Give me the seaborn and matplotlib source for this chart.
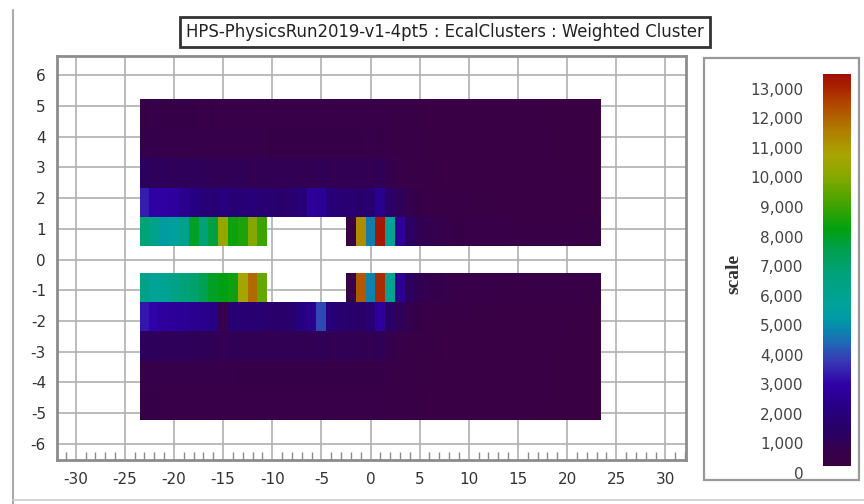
import numpy as np
import pandas as pd
import matplotlib
matplotlib.use("Agg")
import matplotlib.pyplot as plt
import seaborn as sns
from matplotlib.colors import LinearSegmentedColormap
from matplotlib.ticker import MultipleLocator, StrMethodFormatter
from matplotlib.patches import Rectangle
from matplotlib.lines import Line2D

# ---------------- data ----------------
title = "HPS-PhysicsRun2019-v1-4pt5 : EcalClusters : Weighted Cluster"
cbar_label = "scale"
columns = list(range(-23, 24))          # crystal column index x
rows = [5, 4, 3, 2, 1, -1, -2, -3, -4, -5]  # crystal row index y
H = None  # beam hole (no crystal)

row_p5 = [650, 660, 650, 640, 650, 640, 630, 640, 630, 620, 630, 620, 610, 620, 610, 600, 610, 600, 600, 590,
          600, 590, 600, 610, 600, 560, 500, 460, 440, 420, 410, 400, 400, 390, 390, 380, 380, 380, 370, 370,
          370, 360, 360, 360, 360, 350, 350]
row_p4 = [720, 720, 710, 700, 700, 690, 690, 680, 680, 670, 670, 660, 660, 650, 650, 650, 640, 650, 640, 640,
          650, 640, 650, 660, 650, 600, 530, 480, 450, 430, 420, 410, 400, 400, 390, 390, 380, 380, 380, 370,
          370, 370, 360, 360, 360, 350, 350]
row_p3 = [1250, 1200, 1180, 1150, 1120, 1100, 1080, 1050, 1040, 1030, 1020, 1000, 990, 980, 970, 960, 980, 1000, 1050, 1000,
          980, 960, 950, 980, 1050, 800, 620, 520, 480, 450, 430, 420, 410, 400, 400, 390, 390, 380, 380, 380,
          370, 370, 370, 360, 360, 360, 350]
row_p2 = [3400, 2900, 2900, 2800, 2500, 2200, 2000, 1900, 2100, 1900, 1900, 2000, 1800, 1700, 1600, 1700, 2000, 2700, 2600, 2000,
          1800, 1700, 1600, 1700, 2500, 1500, 1100, 800, 650, 560, 520, 490, 470, 450, 440, 430, 420, 410, 400, 400,
          390, 390, 380, 380, 370, 370, 360]
row_p1 = [6800, 6200, 5400, 5600, 6200, 8000, 6800, 7700, 10300, 8400, 8600, 10000, 9000, H, H, H, H, H, H, H,
          H, 400, 11300, 4700, 13300, 5900, 2700, 1400, 1000, 850, 750, 680, 650, 630, 620, 600, 580, 560, 540, 520,
          500, 480, 470, 460, 450, 440, 430]
row_m1 = [6300, 5800, 5900, 6300, 6700, 7000, 7500, 8000, 8200, 8400, 10700, 11900, 9600, H, H, H, H, H, H, H,
          H, 500, 12200, 4800, 12900, 6000, 2600, 1300, 950, 800, 720, 660, 630, 610, 600, 580, 560, 540, 520, 510,
          490, 480, 470, 460, 450, 440, 430]
row_m2 = [3300, 3000, 2800, 2700, 2600, 2500, 2400, 2300, 700, 1800, 1800, 1700, 1700, 1600, 1600, 1700, 2200, 2400, 4000, 2000,
          1700, 1600, 1500, 1800, 2700, 1500, 1100, 800, 650, 560, 520, 490, 470, 450, 440, 430, 420, 410, 400, 400,
          390, 390, 380, 380, 370, 370, 360]
row_m3 = [1200, 1180, 1150, 1120, 1100, 1080, 1060, 1040, 1000, 1020, 1000, 990, 980, 970, 960, 950, 980, 1000, 1050, 1000,
          970, 950, 940, 980, 1050, 800, 620, 520, 480, 450, 430, 420, 410, 400, 400, 390, 390, 380, 380, 380,
          370, 370, 370, 360, 360, 360, 350]
row_m4 = [700, 700, 690, 690, 680, 680, 670, 670, 660, 660, 650, 650, 650, 640, 640, 640, 640, 650, 640, 640,
          640, 640, 640, 650, 650, 590, 520, 470, 440, 430, 420, 410, 400, 400, 390, 390, 380, 380, 380, 370,
          370, 370, 360, 360, 360, 350, 350]
row_m5 = [640, 640, 630, 630, 620, 620, 610, 610, 600, 600, 600, 590, 590, 590, 580, 580, 580, 590, 580, 580,
          580, 580, 590, 600, 590, 550, 490, 450, 430, 420, 410, 400, 400, 390, 390, 380, 380, 380, 370, 370,
          370, 360, 360, 360, 360, 350, 350]
row_values = [row_p5, row_p4, row_p3, row_p2, row_p1, row_m1, row_m2, row_m3, row_m4, row_m5]

vmin, vmax = 0, 13500
cbar_ticks = list(range(0, 14000, 1000))

# ---------------- layout constants ----------------
row_pitch = 0.957   # displayed height of one crystal row (axis units)
row_shift = 0.05

recs = []
for iy, vals in zip(rows, row_values):
    for ix, v in zip(columns, vals):
        if v is None:
            continue
        ypos = np.sign(iy) * (abs(iy) * row_pitch - row_shift)
        recs.append({"ix": ix, "ypos": ypos, "value": v})
df = pd.DataFrame(recs)

x_edges = np.arange(columns[0] - 0.5, columns[-1] + 1.0, 1.0)
half = row_pitch / 2
pos_edges = [k * row_pitch - row_shift - half for k in range(1, 6)] + [5 * row_pitch - row_shift + half]
y_edges = np.array(sorted([-e for e in pos_edges] + pos_edges))

# ---------------- colormap ----------------
cmap = LinearSegmentedColormap.from_list("ecal", [
    (0.000, "#ffffff"), (0.016, "#ffffff"), (0.017, "#3a0042"), (0.05, "#36004a"),
    (0.10, "#2a0062"), (0.16, "#260080"), (0.22, "#3000a6"), (0.28, "#3838b4"),
    (0.33, "#1e6cb4"), (0.38, "#0096a8"), (0.42, "#00a39a"), (0.50, "#00a278"),
    (0.56, "#00a050"), (0.61, "#00a010"), (0.68, "#48a400"), (0.75, "#8ca800"),
    (0.80, "#aaa400"), (0.86, "#b07c00"), (0.92, "#b04c00"), (0.97, "#a82000"),
    (1.00, "#a01000")], N=512)

# ---------------- figure ----------------
sns.set_theme(style="white")
plt.rcParams["font.family"] = ["DejaVu Sans"]
plt.rcParams["axes.unicode_minus"] = False
tick_size = 11

W, Hpx = 864, 504
fig = plt.figure(figsize=(W / 100, Hpx / 100), dpi=100)

def fbox(x0, y0, x1, y1):
    return [x0 / W, 1 - y1 / Hpx, (x1 - x0) / W, (y1 - y0) / Hpx]

ax = fig.add_axes(fbox(57, 56, 686, 460))
cax = fig.add_axes(fbox(823, 74, 851, 473))

sns.histplot(data=df, x="ix", y="ypos", weights="value", bins=(x_edges, y_edges),
             cmap=cmap, vmin=vmin, vmax=vmax, cbar=True, cbar_ax=cax, ax=ax)

ax.set_xlim(-31.9, 32.1)
ax.set_ylim(-6.53, 6.63)
ax.set_xlabel("")
ax.set_ylabel("")
ax.xaxis.set_major_locator(MultipleLocator(5))
ax.xaxis.set_minor_locator(MultipleLocator(1))
ax.yaxis.set_major_locator(MultipleLocator(1))
ax.set_axisbelow(True)
ax.grid(True, which="major", color="#b0b0b0", linewidth=1.2)
for s in ax.spines.values():
    s.set_color("#8c8c8c")
    s.set_linewidth(2)
ax.tick_params(axis="x", which="major", length=0, pad=9, labelsize=tick_size, labelcolor="#333333")
ax.tick_params(axis="x", which="minor", length=6, width=1, direction="in", color="#8c8c8c", bottom=True)
ax.tick_params(axis="y", which="major", length=0, pad=8, labelsize=tick_size, labelcolor="#333333")

# colorbar styling
cax.yaxis.set_ticks_position("left")
cax.yaxis.set_label_position("left")
cax.set_yticks(cbar_ticks)
cax.yaxis.set_major_formatter(StrMethodFormatter("{x:,.0f}"))
cax.tick_params(axis="y", length=0, pad=14, labelsize=tick_size, labelcolor="#444444")
cax.set_ylabel(cbar_label, fontsize=14, fontweight="bold", family=["Liberation Serif", "DejaVu Serif"],
               labelpad=6, color="#333333")
for s in cax.spines.values():
    s.set_visible(False)
try:
    cax.collections[0].colorbar.outline.set_visible(False)
except Exception:
    pass

# colorbar panel frame
fig.patches.append(Rectangle((704 / W, 1 - 480 / Hpx), 155 / W, 422 / Hpx, transform=fig.transFigure,
                             fill=False, edgecolor="#999999", linewidth=1.6))
# outer panel lines
fig.add_artist(Line2D([13 / W, 13 / W], [0, 1 - 10 / Hpx], color="#aaaaaa", linewidth=1.5))
fig.add_artist(Line2D([13 / W, 1], [1 - 500 / Hpx, 1 - 500 / Hpx], color="#cccccc", linewidth=1.2))

# boxed title
fig.text(445 / W, 1 - 32 / Hpx, title, ha="center", va="center", fontsize=11.9,
         color="#222222",
         bbox=dict(boxstyle="square,pad=0.36", facecolor="white", edgecolor="#333333", linewidth=2))

fig.savefig("out.png", dpi=100)
